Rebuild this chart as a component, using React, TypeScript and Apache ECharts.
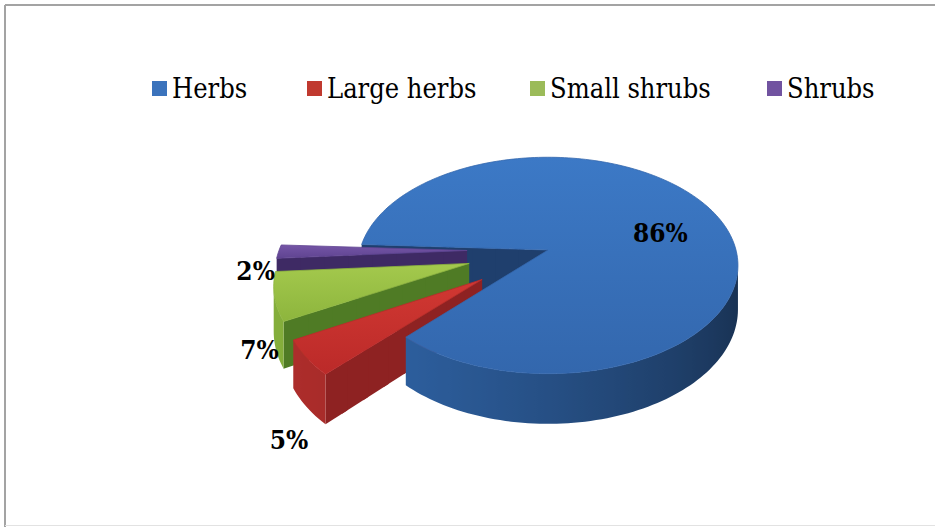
import React, { useEffect, useRef } from 'react';
import * as echarts from 'echarts';

// ---- data ----
const categories = ['Herbs', 'Large herbs', 'Small shrubs', 'Shrubs'];
const shares = [86, 5, 7, 2];
const exploded = [false, true, true, true];

// ---- styles / layout ----
const legendColors = ['#3b73bc', '#c0392f', '#9bbb59', '#7153a0'];
const legendLeft = [147, 302, 525, 762];
const topColors = [
  ['#3c79c6', '#3367ad'],
  ['#d13832', '#bb2a29'],
  ['#a4c94d', '#8db53d'],
  ['#7555a6', '#5f4491'],
];
const wallLight = ['#2e61a2', '#ad2d2b', '#84ae3b', '#5c418e'];
const wallDark = ['#172e4d', '#6c1717', '#4a6e22', '#382560'];
const cutColors = ['#1f3f6d', '#8e2222', '#4f7b25', '#3e2a64'];
const labelNudge = [[8, 7], [1, 18], [8, 1], [1, -24]];

const CX = 548, CY = 250, RX = 188, RY = 106, DEPTH = 43, PERSP = 7;
const START = 183, EXPLODE = 0.43;
const SERIF = 'DejaVu Serif Condensed, DejaVu Serif';

const rad = (d: number) => (d * Math.PI) / 180;
const proj = (X: number, Y: number, Z: number) => {
  const f = PERSP / (PERSP - Y);
  return [CX + RX * X * f, CY + (RY * Y - Z) * f];
};
const hex = (h: string) => [1, 3, 5].map((k) => parseInt(h.slice(k, k + 2), 16));
const mix = (a: string, b: string, t: number) => {
  const A = hex(a), B = hex(b);
  return 'rgb(' + A.map((v, k) => Math.round(v + (B[k] - v) * t)).join(',') + ')';
};
const Ln = Math.hypot(-0.95, 0.3);
const LX = -0.95 / Ln, LY = 0.3 / Ln;
const area = (pts: number[][]) => {
  let s = 0;
  for (let k = 0; k < pts.length; k++) {
    const p = pts[k], q = pts[(k + 1) % pts.length];
    s += p[0] * q[1] - q[0] * p[1];
  }
  return s;
};
const zOf = (Y: number) => Math.round(100 + (Y + 2) * 500);

const makeRender = (i: number) => (params: any, api: any) => {
  const total = shares.reduce((a, b) => a + b, 0);
  let a0 = START;
  for (let j = 0; j < i; j++) a0 += (shares[j] / total) * 360;
  const value = api.value(0);
  const sweep = (value / total) * 360;
  const a1 = a0 + sweep;
  const mid = rad((a0 + a1) / 2);
  const ox = exploded[i] ? EXPLODE * Math.cos(mid) : 0;
  const oy = exploded[i] ? EXPLODE * Math.sin(mid) : 0;
  const children: any[] = [];

  // outer wall (visible part), shaded by a light from the left
  const nSeg = Math.max(4, Math.ceil(sweep / 1.5));
  const runs: any[][] = [];
  let cur: any[] = [];
  for (let k = 0; k < nSeg; k++) {
    const t0 = rad(a0 + (sweep * k) / nSeg);
    const t1 = rad(a0 + (sweep * (k + 1)) / nSeg);
    const X0 = ox + Math.cos(t0), Y0 = oy + Math.sin(t0);
    const X1 = ox + Math.cos(t1), Y1 = oy + Math.sin(t1);
    const A = proj(X0, Y0, 0), B = proj(X1, Y1, 0);
    if (B[0] < A[0]) {
      if (cur.length === 0) cur.push({ t: t0, A, A2: proj(X0, Y0, -DEPTH), Y: Y0 });
      cur.push({ t: t1, A: B, A2: proj(X1, Y1, -DEPTH), Y: Y1 });
    } else if (cur.length) {
      runs.push(cur);
      cur = [];
    }
  }
  if (cur.length) runs.push(cur);
  runs.forEach((run) => {
    const pts = run.map((p) => p.A).concat(run.map((p) => p.A2).reverse());
    const xs = run.map((p) => p.A[0]);
    const xmin = Math.min(...xs), xmax = Math.max(...xs);
    const span = Math.max(1, xmax - xmin);
    const stops = run
      .map((p) => {
        const dot = Math.cos(p.t) * LX + Math.sin(p.t) * LY;
        return { offset: (p.A[0] - xmin) / span, color: mix(wallDark[i], wallLight[i], (dot + 1) / 2) };
      })
      .sort((a, b) => a.offset - b.offset);
    const Ymax = Math.max(...run.map((p) => p.Y));
    children.push({
      type: 'polygon',
      shape: { points: pts },
      style: {
        fill: { type: 'linear', x: xmin, y: 0, x2: xmin + span, y2: 0, global: true, colorStops: stops },
      },
      z2: zOf(Ymax),
    });
  });

  // radial cut faces
  [a0, a1].forEach((ang, idx) => {
    const t = rad(ang);
    const C = proj(ox, oy, 0), R = proj(ox + Math.cos(t), oy + Math.sin(t), 0);
    const R2 = proj(ox + Math.cos(t), oy + Math.sin(t), -DEPTH), C2 = proj(ox, oy, -DEPTH);
    const s = area([C, R, R2, C2]);
    const visible = idx === 0 ? s < 0 : s > 0;
    if (!visible) return;
    const m = 8;
    for (let k = 0; k < m; k++) {
      const r0 = k / m, r1 = Math.min(1, (k + 1) / m + 0.03);
      const P0 = [ox + r0 * Math.cos(t), oy + r0 * Math.sin(t)];
      const P1 = [ox + r1 * Math.cos(t), oy + r1 * Math.sin(t)];
      children.push({
        type: 'polygon',
        shape: {
          points: [proj(P0[0], P0[1], 0), proj(P1[0], P1[1], 0), proj(P1[0], P1[1], -DEPTH), proj(P0[0], P0[1], -DEPTH)],
        },
        style: { fill: cutColors[i] },
        z2: zOf((P0[1] + P1[1]) / 2),
      });
    }
  });

  // top face
  const top: number[][] = [proj(ox, oy, 0)];
  const nTop = Math.max(2, Math.ceil(sweep / 1.5));
  for (let k = 0; k <= nTop; k++) {
    const t = rad(a0 + (sweep * k) / nTop);
    top.push(proj(ox + Math.cos(t), oy + Math.sin(t), 0));
  }
  children.push({
    type: 'polygon',
    shape: { points: top },
    style: {
      fill: {
        type: 'linear', x: 0, y: 0, x2: 0, y2: 1,
        colorStops: [
          { offset: 0, color: topColors[i][0] },
          { offset: 1, color: topColors[i][1] },
        ],
      },
      stroke: topColors[i][1],
      lineWidth: 0.8,
    },
    z2: 5000,
  });

  // percentage label
  let pos: number[];
  if (!exploded[i]) {
    const r = 0.62;
    pos = proj(ox + r * Math.cos(mid), oy + r * Math.sin(mid), 0);
  } else {
    const p = proj(ox + Math.cos(mid), oy + Math.sin(mid), -DEPTH);
    pos = [p[0] + 24 * Math.cos(mid), p[1] + 24 * Math.sin(mid)];
  }
  children.push({
    type: 'text',
    x: pos[0] + labelNudge[i][0],
    y: pos[1] + labelNudge[i][1],
    style: {
      text: value + '%',
      fontFamily: SERIF,
      fontSize: 26,
      fontWeight: 'bold',
      fill: '#000',
      align: 'center',
      verticalAlign: 'middle',
    },
    z2: 9000,
  });

  return { type: 'group', children };
};

export default function App() {
  const ref = useRef<HTMLDivElement>(null);
  useEffect(() => {
    if (!ref.current) return;
    const chart = echarts.init(ref.current, undefined, { renderer: 'svg' });
    chart.setOption({
      animation: false,
      backgroundColor: '#ffffff',
      textStyle: { fontFamily: SERIF },
      legend: categories.map((name, i) => ({
        data: [{ name, itemStyle: { color: legendColors[i] } }],
        left: legendLeft[i],
        top: 70,
        itemWidth: 15,
        itemHeight: 15,
        itemGap: 0,
        icon: 'rect',
        selectedMode: false,
        textStyle: { fontFamily: SERIF, fontSize: 27, color: '#000' },
      })),
      graphic: [
        { type: 'line', shape: { x1: 5, y1: 5, x2: 935, y2: 5 }, style: { stroke: '#a3a3a3', lineWidth: 2 } },
        { type: 'line', shape: { x1: 5, y1: 5, x2: 5, y2: 527 }, style: { stroke: '#a3a3a3', lineWidth: 2 } },
        { type: 'line', shape: { x1: 5, y1: 525.5, x2: 935, y2: 525.5 }, style: { stroke: '#e2e2e2', lineWidth: 1 } },
      ],
      series: categories.map((name, i) => ({
        type: 'custom',
        name,
        coordinateSystem: 'none',
        silent: true,
        itemStyle: { color: legendColors[i] },
        data: [[shares[i]]],
        renderItem: makeRender(i),
      })),
    });
    return () => chart.dispose();
  }, []);
  return <div ref={ref} style={{ position: 'absolute', left: 0, top: 0, width: 935, height: 527 }} />;
}
